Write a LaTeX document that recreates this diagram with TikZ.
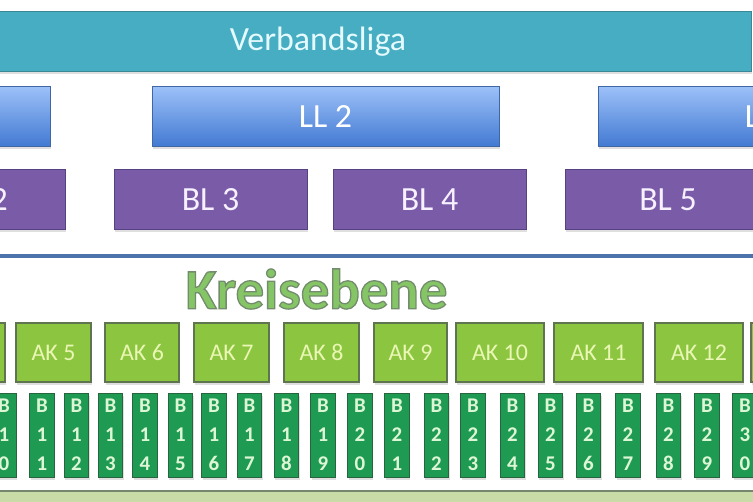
\documentclass[tikz,border=0pt]{standalone}
\usepackage{fontspec}
\setmainfont{Carlito}
\usetikzlibrary{shadows}
\definecolor{vlF}{HTML}{47ADC2}
\definecolor{vlB}{HTML}{3A8796}
\definecolor{vlT}{HTML}{E4FAFF}
\definecolor{llTop}{HTML}{9CC0F8}
\definecolor{llBot}{HTML}{4179D2}
\definecolor{llB}{HTML}{3F67A3}
\definecolor{blF}{HTML}{7A5BA7}
\definecolor{blB}{HTML}{564283}
\definecolor{blT}{HTML}{F6F0FF}
\definecolor{sepC}{HTML}{4D72AC}
\definecolor{krF}{HTML}{86C566}
\definecolor{akF}{HTML}{8CC641}
\definecolor{akB}{HTML}{5E7550}
\definecolor{akT}{HTML}{EAF6B4}
\definecolor{bbF}{HTML}{1F9A52}
\definecolor{bbB}{HTML}{27653F}
\definecolor{bbT}{HTML}{DDF6D6}
\definecolor{bandF}{HTML}{C9DBA6}
\definecolor{bandL}{HTML}{76866E}
\newcommand\outlinedtext[1]{{\color{krF}\special{pdf:literal direct 0.45 0.55 0.43 RG 1.3 w 2 Tr}#1\special{pdf:literal direct 0 Tr}}}
\tikzset{
  boxbase/.style={rectangle, inner sep=0pt, line width=1bp,
    drop shadow={opacity=0.25, shadow xshift=1bp, shadow yshift=-2.5bp}},
  vlbox/.style={boxbase, draw=vlB, fill=vlF, text=vlT, minimum height=60bp,
    font=\fontsize{34}{40}\selectfont},
  llbox/.style={boxbase, draw=llB, top color=llTop, bottom color=llBot, text=white,
    minimum height=60bp, font=\fontsize{34}{40}\selectfont},
  blbox/.style={boxbase, draw=blB, fill=blF, text=blT, minimum height=60bp,
    font=\fontsize{34}{40}\selectfont},
  akbox/.style={boxbase, draw=akB, line width=1.5bp, fill=akF, text=akT, minimum height=59bp,
    font=\fontsize{24}{28}\selectfont},
  bbox/.style={boxbase, draw=bbB, fill=bbF, text=bbT, minimum height=84bp,
    minimum width=24.5bp, align=center, font=\bfseries\fontsize{21}{29}\selectfont},
  sepline/.style={draw=sepC, line width=3.5bp},
  title/.style={inner sep=0pt, font=\bfseries\fontsize{57}{60}\selectfont}
}
\begin{document}
\begin{tikzpicture}[x=1bp,y=-1bp]
\useasboundingbox (0,0) rectangle (753,502);
\clip (0,0) rectangle (753,502);
\fill[white] (0,0) rectangle (753,502);
% Verbandsliga
\node[vlbox, minimum width=866bp] (vl) at (318,42) {Verbandsliga};
% Landesligen
\node[llbox, minimum width=347bp] (ll1) at (-123.5,117) {};
\node[llbox, minimum width=347bp] (ll2) at (325.5,117) {LL 2};
\node[llbox, minimum width=347bp] (ll3) at (771.5,117) {LL 3};
% Bezirksligen
\node[blbox, minimum width=172bp] (bl2) at (-21,200) {BL 2};
\node[blbox, minimum width=193bp] (bl3) at (210.5,200) {BL 3};
\node[blbox, minimum width=193bp] (bl4) at (429.5,200) {BL 4};
\node[blbox, minimum width=206bp] (bl5) at (668,200) {BL 5};
% separator
\coordinate (sepL) at (0,256);
\coordinate (sepR) at (753,256);
\draw[sepline] (sepL) -- (sepR);
% Kreisebene
\node[title] (kr) at (316.5,289) {\outlinedtext{Kreisebene}};
% Kreisligen AK
\node[akbox, minimum width=74bp] (ak4) at (-32,352.5) {};
\node[akbox, minimum width=75bp] (ak5) at (53.5,352.5) {AK 5};
\node[akbox, minimum width=74bp] (ak6) at (142,352.5) {AK 6};
\node[akbox, minimum width=75bp] (ak7) at (231.5,352.5) {AK 7};
\node[akbox, minimum width=75bp] (ak8) at (321.5,352.5) {AK 8};
\node[akbox, minimum width=73bp] (ak9) at (410.5,352.5) {AK 9};
\node[akbox, minimum width=88bp] (ak10) at (500,352.5) {AK 10};
\node[akbox, minimum width=89bp] (ak11) at (598.5,352.5) {AK 11};
\node[akbox, minimum width=88bp] (ak12) at (699,352.5) {AK 12};
\node[akbox, minimum width=88bp] (ak13) at (795,352.5) {};
% B boxes
\foreach \cx/\a/\b in {4/1/0, 42/1/1, 76.5/1/2, 110.5/1/3, 145/1/4, 180.5/1/5,
  214/1/6, 249.5/1/7, 286.5/1/8, 323/1/9, 360/2/0, 397/2/1, 436.5/2/2, 473/2/3,
  512.5/2/4, 550.5/2/5, 588.5/2/6, 628/2/7, 668.5/2/8, 707/2/9, 745/3/0}
  \node[bbox] (b\a\b) at (\cx,435) {B\\\a\\\b};
% bottom band
\coordinate (bandL1) at (0,491);
\coordinate (bandR1) at (753,502);
\fill[bandF] (bandL1) rectangle (bandR1);
\draw[bandL, line width=1.5bp] (0,491) -- (753,491);
\end{tikzpicture}
\end{document}
